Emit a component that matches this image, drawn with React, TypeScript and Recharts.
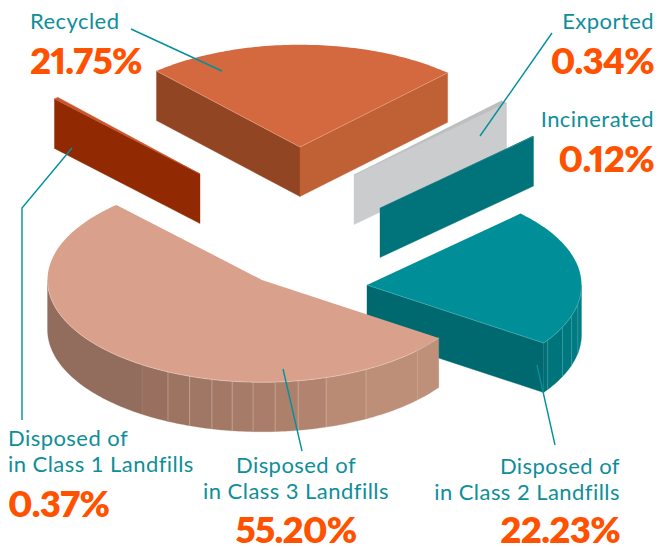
import React from "react";
import { PieChart, Pie } from "recharts";

const categories = ["Recycled", "Exported", "Incinerated", "Class 2", "Class 3", "Class 1"];
const shares = [21.75, 0.34, 0.12, 22.23, 55.2, 0.37];
const valueLabels = ["21.75%", "0.34%", "0.12%", "22.23%", "55.20%", "0.37%"];
const nameLines = [
  ["Recycled"],
  ["Exported"],
  ["Incinerated"],
  ["Disposed of", "in Class 2 Landfills"],
  ["Disposed of", "in Class 3 Landfills"],
  ["Disposed of", "in Class 1 Landfills"],
];

const chartData = categories.map((name, i) => ({ name, value: shares[i] }));

const W = 658;
const H = 547;
const CX = 262;
const CY = 280;
const RX = 214.5;
const TILT = 102 / 214;
const DEPTH = 49.5;

type Look = {
  apex: [number, number];
  top: string;
  startFace?: string;
  endFace?: string;
  seam: string;
  strips?: [number, string][];
};

const looks: Record<string, Look> = {
  Recycled: { apex: [300, 147], top: "#D4683E", startFace: "#924522", endFace: "#BF6035", seam: "#E9A98C" },
  Exported: { apex: [354, 175], top: "#BDBEC0", endFace: "#CBCCCE", seam: "#BDBEC0" },
  Incinerated: { apex: [380, 208], top: "#00737B", endFace: "#00737B", seam: "#00737B" },
  "Class 2": {
    apex: [367, 285],
    top: "#008F99",
    endFace: "#00696F",
    seam: "#4FB3B8",
    strips: [
      [0, "#007D85"],
      [10.6, "#007B83"],
      [17.5, "#00787F"],
      [24.3, "#00747B"],
      [32.6, "#006F76"],
    ],
  },
  "Class 3": {
    apex: [262, 280],
    top: "#D9A18B",
    seam: "#EBCFC2",
    strips: [
      [34.5, "#BE8F79"],
      [43.6, "#BD8E78"],
      [61, "#B98B75"],
      [72.6, "#B28470"],
      [80.3, "#AD806C"],
      [86.5, "#A97D6A"],
      [92.4, "#A67B68"],
      [98, "#A37966"],
      [103.5, "#A07664"],
      [109.7, "#9D7362"],
      [116, "#997060"],
      [124, "#926C5D"],
    ],
  },
  "Class 1": { apex: [200, 174], top: "#C9532A", startFace: "#912A02", seam: "#C9532A" },
};

// Recharts sweep (degrees clockwise from the first slice) to drawn ellipse angle.
const sweepKnots: [number, number][] = [
  [0, 228],
  [78.3, 313.5],
  [79.5, 315.3],
  [79.9, 315.4],
  [80.0, 316],
  [159.9, 394.5],
  [358.7, 587.3],
  [360, 588.5],
];

function warp(t: number) {
  for (let i = 1; i < sweepKnots.length; i++) {
    const [a, b] = sweepKnots[i - 1];
    const [c, d] = sweepKnots[i];
    if (t <= c) return b + ((t - a) / (c - a || 1)) * (d - b);
  }
  return sweepKnots[sweepKnots.length - 1][1];
}

const rad = (d: number) => (d * Math.PI) / 180;

function arcPoints(ax: number, ay: number, r: number, from: number, to: number, dy = 0) {
  const pts: string[] = [];
  const n = Math.max(1, Math.ceil(Math.abs(to - from)));
  for (let i = 0; i <= n; i++) {
    const th = rad(from + ((to - from) * i) / n);
    pts.push(`${(ax + r * Math.cos(th)).toFixed(2)},${(ay + r * TILT * Math.sin(th) + dy).toFixed(2)}`);
  }
  return pts;
}

function Slice(props: any) {
  const { startAngle, endAngle, outerRadius, index } = props;
  const name = categories[index];
  const look = looks[name];
  const [ax, ay] = look.apex;
  const r = outerRadius;
  const a = warp(90 - startAngle);
  const b = warp(90 - endAngle);
  const pt = (d: number, dy = 0): [number, number] => [
    ax + r * Math.cos(rad(d)),
    ay + r * TILT * Math.sin(rad(d)) + dy,
  ];
  const face = (d: number, fill: string, key: string) => {
    const [x, y] = pt(d);
    return (
      <polygon
        key={key}
        points={`${ax},${ay} ${x},${y} ${x},${y + DEPTH} ${ax},${ay + DEPTH}`}
        fill={fill}
        stroke={fill}
        strokeWidth={0.4}
      />
    );
  };
  const stripEls: React.ReactNode[] = [];
  const strips = look.strips ?? [];
  strips.forEach(([th, fill], i) => {
    const lo = th;
    const hi = i + 1 < strips.length ? strips[i + 1][0] : name === "Class 3" ? 180 : b - 360;
    const top = arcPoints(ax, ay, r, lo, hi);
    const bottom = arcPoints(ax, ay, r, hi, lo, DEPTH);
    stripEls.push(<polygon key={`s${i}`} points={[...top, ...bottom].join(" ")} fill={fill} stroke={fill} strokeWidth={0.3} />);
    if (i > 0) {
      const [x, y] = pt(lo);
      const faint = name === "Class 3" && (i === strips.length - 1 || i === 1);
      stripEls.push(
        <line
          key={`l${i}`}
          x1={x}
          y1={y}
          x2={x}
          y2={y + DEPTH}
          stroke={look.seam}
          strokeOpacity={faint ? 0.15 : 0.5}
          strokeWidth={0.8}
        />
      );
    }
  });
  const topShape = [`${ax},${ay}`, ...arcPoints(ax, ay, r, a, b)].join(" ");
  return (
    <g>
      {look.startFace ? face(a, look.startFace, "f1") : null}
      {look.endFace ? face(b, look.endFace, "f2") : null}
      {stripEls}
      <polygon points={topShape} fill={look.top} stroke={look.seam} strokeWidth={name === "Class 1" || name === "Exported" ? 0.6 : 0} />
      {look.startFace && name === "Recycled" ? (
        <line x1={ax} y1={ay} x2={pt(a)[0]} y2={pt(a)[1]} stroke={look.seam} strokeWidth={0.6} />
      ) : null}
      {look.endFace && name !== "Exported" && name !== "Incinerated" ? (
        <line x1={ax} y1={ay} x2={pt(b)[0]} y2={pt(b)[1]} stroke={look.seam} strokeWidth={0.6} />
      ) : null}
      {look.strips ? (
        <polyline
          points={arcPoints(ax, ay, r, Math.max(strips[0][0], 0), name === "Class 3" ? 180 : b - 360).join(" ")}
          fill="none"
          stroke={look.seam}
          strokeWidth={0.6}
        />
      ) : null}
    </g>
  );
}

type Anno = {
  anchor: "start" | "middle" | "end";
  x: number;
  lineY: number[];
  valueY: number;
  leader?: [number, number][];
};

const annos: Anno[] = [
  { anchor: "start", x: 30, lineY: [29], valueY: 74, leader: [[131, 29], [222, 71]] },
  { anchor: "end", x: 654, lineY: [29], valueY: 74, leader: [[552, 33], [480, 136]] },
  { anchor: "end", x: 654, lineY: [127], valueY: 172 },
  { anchor: "end", x: 620, lineY: [474, 500], valueY: 543, leader: [[537, 365], [555, 445]] },
  { anchor: "middle", x: 296, lineY: [473, 499], valueY: 543, leader: [[283, 369], [302, 451]] },
  { anchor: "start", x: 8, lineY: [446, 472], valueY: 517, leader: [[72, 148], [22, 208], [22, 420]] },
];

function Annotation(props: any) {
  const i = props.index as number;
  const an = annos[i];
  return (
    <g>
      {an.leader ? (
        <polyline points={an.leader.map((p) => p.join(",")).join(" ")} fill="none" stroke="#00919C" strokeWidth={1.4} />
      ) : null}
      {nameLines[i].map((line, k) => (
        <text key={k} x={an.x} y={an.lineY[k]} textAnchor={an.anchor} fontFamily="Lato" fontSize={22} fill="#0E8E99" letterSpacing={0.45}>
          {line}
        </text>
      ))}
      <text
        x={an.x}
        y={an.valueY}
        textAnchor={an.anchor}
        fontFamily="Lato"
        fontWeight={800}
        fontSize={36.5}
        letterSpacing={-0.7}
        fill="#FF5200"
        style={{ fontVariantNumeric: "proportional-nums", fontFeatureSettings: '"pnum" 1' }}
      >
        {valueLabels[i]}
      </text>
    </g>
  );
}

export default function App() {
  return (
    <div style={{ position: "absolute", left: 0, top: 0, width: W, height: H, background: "#fff" }}>
      <PieChart width={W} height={H} margin={{ top: 0, right: 0, bottom: 0, left: 0 }}>
        <Pie
          data={chartData}
          dataKey="value"
          nameKey="name"
          cx={CX}
          cy={CY}
          innerRadius={0}
          outerRadius={RX}
          startAngle={90}
          endAngle={-270}
          stroke="none"
          isAnimationActive={false}
          shape={Slice}
          label={Annotation}
          labelLine={false}
        />
      </PieChart>
    </div>
  );
}
